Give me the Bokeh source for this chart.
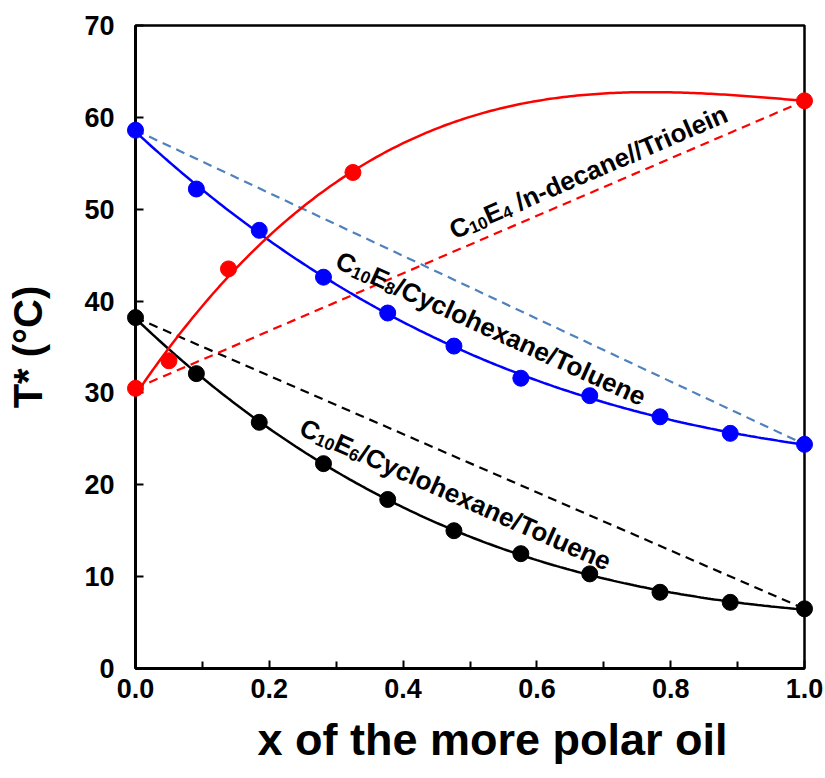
import math
import numpy as np
from bokeh.plotting import figure
from bokeh.models import Range1d, FixedTicker, PrintfTickFormatter, Title
from bokeh.core.properties import value
from bokeh.embed import file_html
from bokeh.resources import INLINE

# ---- data ----
x_series = [0.0, 0.091, 0.185, 0.281, 0.377, 0.476, 0.576, 0.679, 0.784, 0.889, 1.0]
T_c10e8 = [58.6, 52.2, 47.7, 42.6, 38.7, 35.1, 31.6, 29.7, 27.4, 25.6, 24.4]
T_c10e6 = [38.2, 32.1, 26.8, 22.3, 18.4, 15.0, 12.5, 10.3, 8.3, 7.2, 6.5]
x_c10e4 = [0.0, 0.05, 0.139, 0.325, 1.0]
T_c10e4 = [30.5, 33.5, 43.5, 54.0, 61.8]

x_ticks = [0.0, 0.2, 0.4, 0.6, 0.8, 1.0]
x_minor = [0.1, 0.3, 0.5, 0.7, 0.9]
y_ticks = [0, 10, 20, 30, 40, 50, 60, 70]

# series labels: (surfactant E-number, rest of the text)
label_num = ["4", "8", "6"]
label_rest = ["\u00a0/n-decane//Triolein", "/Cyclohexane/Toluene", "/Cyclohexane/Toluene"]
label_x = [0.471, 0.302, 0.248]     # start of baseline (data units)
label_y = [47.6, 44.6, 26.4]
label_angle = [23.3, -24.4, -23.9]

FONT = "Liberation Sans"

W, H = 824, 777
p = figure(width=W, height=H, x_range=Range1d(0, 1), y_range=Range1d(0, 70),
           output_backend="svg", toolbar_location=None,
           min_border_left=135, min_border_right=20, min_border_top=25,
           min_border_bottom=109)
p.xgrid.visible = False
p.ygrid.visible = False
p.outline_line_color = "black"
p.outline_line_width = 2.5
p.background_fill_color = "white"
p.border_fill_color = "white"

for ax in (p.xaxis[0], p.yaxis[0]):
    ax.axis_line_width = 3
    ax.major_tick_in = 8
    ax.major_tick_out = 0
    ax.minor_tick_in = 7
    ax.minor_tick_out = 0
    ax.major_tick_line_width = 2
    ax.minor_tick_line_width = 2
    ax.major_label_text_font = FONT
    ax.major_label_text_font_style = "bold"
    ax.major_label_text_font_size = "27px"
    ax.major_label_text_color = "black"
    ax.axis_label_text_font = FONT
    ax.axis_label_text_font_style = "bold"
    ax.axis_label_text_color = "black"

p.xaxis.ticker = FixedTicker(ticks=x_ticks, minor_ticks=x_minor)
p.xaxis.formatter = PrintfTickFormatter(format="%.1f")
p.yaxis.ticker = FixedTicker(ticks=y_ticks, minor_ticks=[])
p.yaxis.axis_label = "T* (°C)"
p.yaxis.axis_label_text_font_size = "40px"
p.xaxis.major_label_standoff = 10
p.yaxis.major_label_standoff = 21
p.yaxis.axis_label_standoff = 31

# x-axis title, placed as in the original (slightly right of centre)
p.add_layout(Title(text="x of the more polar oil", align="left", offset=122,
                   standoff=23, vertical_align="bottom", text_font=FONT,
                   text_font_style="bold", text_font_size="45px",
                   text_color="black"), "below")

xs = np.linspace(0, 1, 201)

def fit(x, y, deg):
    return np.polyval(np.polyfit(x, y, deg), xs)

series = [
    (x_series, T_c10e8, "#0000FF", "#4F81BD", 3),
    (x_series, T_c10e6, "#000000", "#000000", 3),
    (x_c10e4, T_c10e4, "#FF0000", "#FF0000", 3),
]
for x, T, col, dcol, deg in series:
    p.line([x[0], x[-1]], [T[0], T[-1]], line_color=dcol, line_width=2.2,
           line_dash="9 6")
for x, T, col, dcol, deg in series:
    p.line(xs, fit(x, T, deg), line_color=col, line_width=2.5)
for x, T, col, dcol, deg in series:
    r = p.scatter(x, T, size=16, fill_color=col, line_color=col)
    r.level = "overlay"

# rotated labels with real subscripts (C10 E n)
BIG, SMALL, DROP = 26, 17, 5
ADV = {"C": 0.722, "E": 0.667, "d": 0.556}

def add_label(x0, y0, ang, num, rest):
    t = math.radians(ang)
    pieces = [("C", BIG, 0), ("10", SMALL, DROP), ("E", BIG, 0),
              (num, SMALL, DROP), (rest, BIG, 0)]
    d = 0.0
    for txt, size, drop in pieces:
        ox = d * math.cos(t) + drop * math.sin(t)
        oy = -d * math.sin(t) + drop * math.cos(t)
        p.text(x=[x0], y=[y0], text=[txt], x_offset=ox, y_offset=oy,
               angle=ang, angle_units="deg", text_font=value(FONT),
               text_font_style="bold", text_font_size=f"{size}px",
               text_align="left", text_baseline="alphabetic",
               text_color="black")
        if txt in ("C", "E"):
            d += ADV[txt] * size
        else:
            d += ADV["d"] * size * len(txt)

for lx, ly, la, ln, lr in zip(label_x, label_y, label_angle, label_num, label_rest):
    add_label(lx, ly, la, ln, lr)

open("out.html", "w").write(file_html(p, INLINE))
